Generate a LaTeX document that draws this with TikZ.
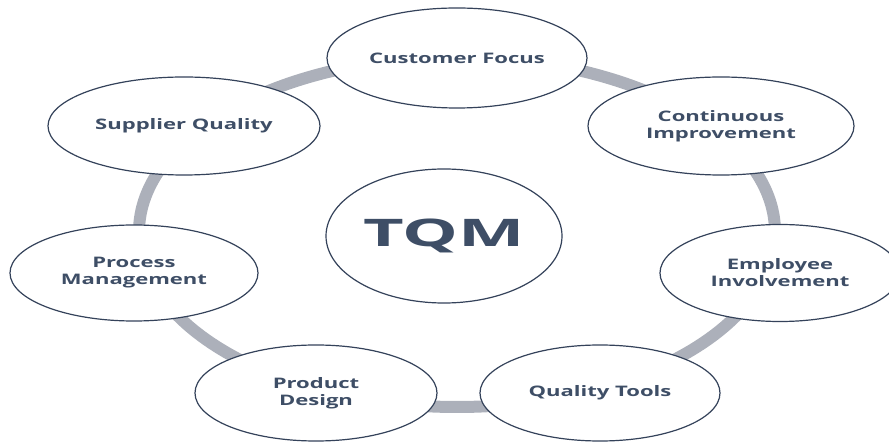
\documentclass[tikz,border=0pt]{standalone}
\usepackage{fontspec}
\setmainfont{Open Sans}
\newfontfamily\labelfont[FakeStretch=1.52]{Open Sans Bold}
\newfontfamily\corefont[FakeStretch=1.85]{Open Sans Bold}
\usepackage{tikz}
\usetikzlibrary{shapes.geometric}
\usepackage{xcolor}
\definecolor{RingGray}{RGB}{172,176,186}
\definecolor{EdgeSlate}{RGB}{52,66,90}
\definecolor{TextSlate}{RGB}{62,78,102}

\begin{document}
\begin{tikzpicture}[x=1pt,y=-1pt,
 topic/.style={draw=EdgeSlate,line width=1.2pt,fill=white,ellipse,inner sep=0pt,
  text=TextSlate,align=center,font=\labelfont\fontsize{14.5}{17}\selectfont},
 core/.style={topic,font=\corefont\fontsize{38}{40}\selectfont}]
\useasboundingbox (0,0) rectangle (889,443);
\coordinate (hub) at (457,232);
\draw[RingGray,line width=12pt] (hub) ellipse [x radius=318,y radius=175];
\node[core,minimum width=236pt,minimum height=134pt] (tqm) at (444,236) {TQM};
\node[topic,minimum width=260pt,minimum height=100pt] (cust) at (457,58) {Customer Focus};
\node[topic,minimum width=266pt,minimum height=98pt] (cont) at (721,126) {Continuous\\Improvement};
\node[topic,minimum width=240pt,minimum height=97pt] (empl) at (780,273) {Employee\\Involvement};
\node[topic,minimum width=240pt,minimum height=96pt] (tools) at (600,393) {Quality Tools};
\node[topic,minimum width=242pt,minimum height=96pt] (design) at (316,393) {Product\\Design};
\node[topic,minimum width=248pt,minimum height=96pt] (proc) at (134,273) {Process\\Management};
\node[topic,minimum width=272pt,minimum height=98pt] (supp) at (184,126) {Supplier Quality};
\end{tikzpicture}
\end{document}
